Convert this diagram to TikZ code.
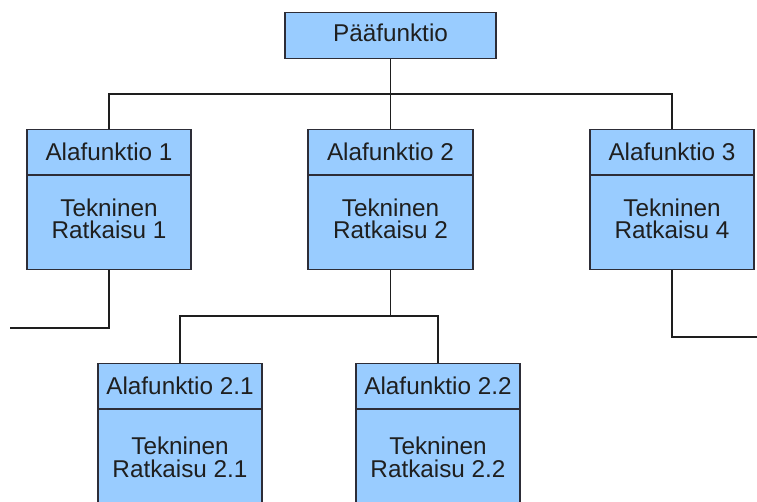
\documentclass[tikz,border=0pt]{standalone}
\usepackage{fontspec}
\setmainfont{Liberation Sans}
\definecolor{boxfill}{RGB}{153,204,255}
\definecolor{boxline}{RGB}{45,45,55}
\definecolor{wire}{RGB}{30,30,30}
\begin{document}
\begin{tikzpicture}[x=1pt,y=-1pt,
  fbox/.style={draw=boxline, fill=boxfill, line width=1.2pt, inner sep=0pt,
               anchor=north, minimum width=164pt, minimum height=140pt},
  divider/.style={draw=boxline, line width=1.2pt},
  conn/.style={draw=wire, line width=1.1pt},
  lbl/.style={anchor=base, inner sep=0pt, align=center,
              font=\fontsize{24.3}{22.5}\selectfont, text=black!88}]
\useasboundingbox (0,0) rectangle (757,502);
\clip (0,0) rectangle (757,502);

% main function
\node[fbox, minimum width=211pt, minimum height=46pt] (top) at (390.5,12) {};
\node[lbl] (topt) at ([yshift=-30pt]top.north) {Pääfunktio};

% sub-functions, first level
\node[fbox] (f1) at (109,129) {};
\node[fbox, minimum width=165pt] (f2) at (390.5,129) {};
\node[fbox] (f3) at (672,129) {};
% sub-functions, second level (running off the page bottom)
\node[fbox, minimum height=150pt] (f21) at (180,363) {};
\node[fbox, minimum height=150pt] (f22) at (438,363) {};

% title / body separators
\foreach \b in {f1,f2,f3,f21,f22}
  \draw[divider] ([yshift=-46pt]\b.north west) -- ([yshift=-46pt]\b.north east);

% texts (body nodes are anchored on the baseline of their last line)
\node[lbl] (f1t) at ([yshift=-32pt]f1.north) {Alafunktio 1};
\node[lbl] (f1b) at ([yshift=-110pt]f1.north) {Tekninen\\Ratkaisu 1};
\node[lbl] (f2t) at ([yshift=-32pt]f2.north) {Alafunktio 2};
\node[lbl] (f2b) at ([yshift=-110pt]f2.north) {Tekninen\\Ratkaisu 2};
\node[lbl] (f3t) at ([yshift=-32pt]f3.north) {Alafunktio 3};
\node[lbl] (f3b) at ([yshift=-110pt]f3.north) {Tekninen\\Ratkaisu 4};
\node[lbl] (f21t) at ([yshift=-31pt]f21.north) {Alafunktio 2.1};
\node[lbl] (f21b) at ([yshift=-114pt]f21.north) {Tekninen\\Ratkaisu 2.1};
\node[lbl] (f22t) at ([yshift=-31pt]f22.north) {Alafunktio 2.2};
\node[lbl] (f22b) at ([yshift=-114pt]f22.north) {Tekninen\\Ratkaisu 2.2};

% connector levels and loose ends
\coordinate (bus1) at (0,94);
\coordinate (bus2) at (0,316);
\coordinate (outL) at (10,328);
\coordinate (outR) at (757,337);

% main function to first level
\draw[conn] (top.south) -- (f2.north);
\draw[conn] (f1.north) -- (f1.north |- bus1) -- (f3.north |- bus1) -- (f3.north);

% sub-function 2 to second level
\draw[conn] (f2.south) -- (f2.south |- bus2);
\draw[conn] (f21.north) -- (f21.north |- bus2) -- (f22.north |- bus2) -- (f22.north);

% branches leaving the page
\draw[conn] (f1.south) |- (outL);
\draw[conn] (f3.south) |- (outR);
\end{tikzpicture}
\end{document}
